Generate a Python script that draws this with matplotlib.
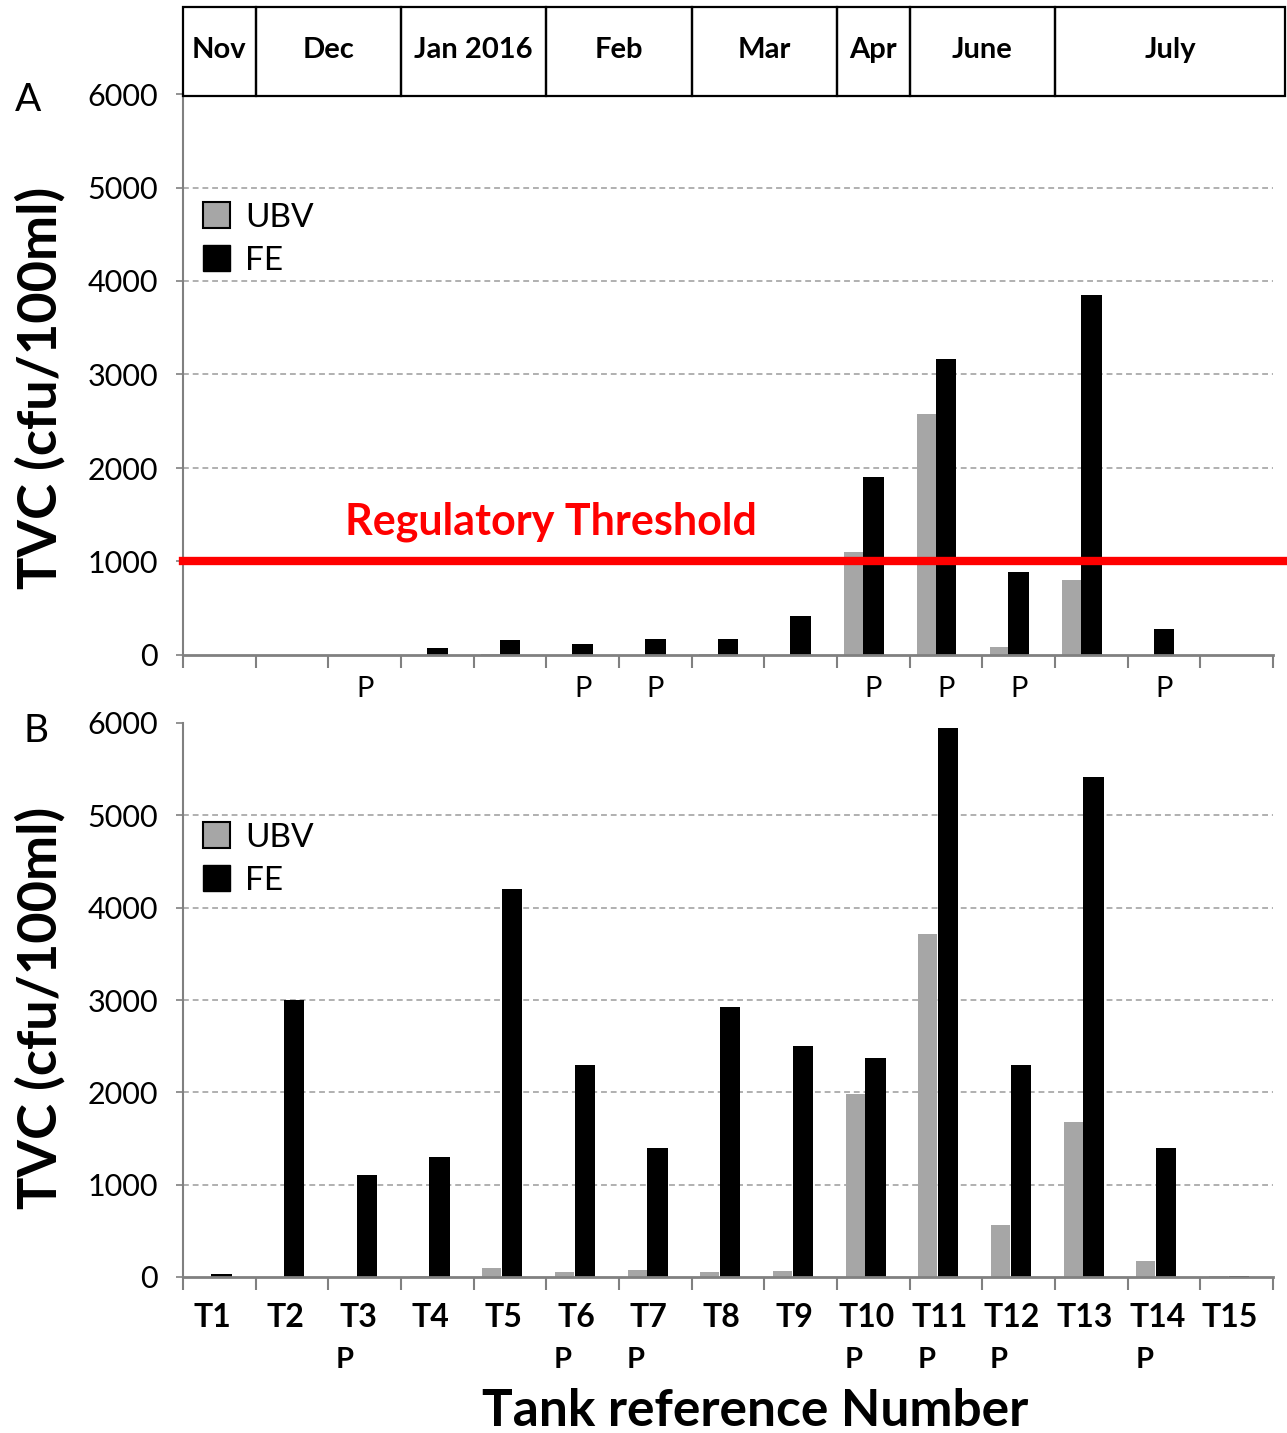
import numpy as np
import matplotlib
matplotlib.use("Agg")
import matplotlib.pyplot as plt
from matplotlib.patches import Rectangle, Patch
from matplotlib.transforms import blended_transform_factory

# data
tanks = ["T%d" % i for i in range(1, 16)]
ubv_a = [0, 0, 0, 5, 10, 5, 5, 15, 5, 1100, 2580, 90, 800, 5, 0]
fe_a = [0, 0, 0, 78, 160, 117, 174, 167, 416, 1900, 3170, 890, 3850, 274, 0]
ubv_b = [5, 5, 5, 10, 97, 58, 72, 58, 65, 1980, 3720, 562, 1680, 173, 15]
fe_b = [36, 3000, 1100, 1300, 4200, 2300, 1400, 2920, 2500, 2370, 5950, 2300, 5420, 1400, 12]
p_tanks = [3, 6, 7, 10, 11, 12, 14]
months = ["Nov", "Dec", "Jan 2016", "Feb", "Mar", "Apr", "June", "July"]
month_span = [1, 2, 2, 2, 2, 1, 2, 3]
threshold = 1000

W, H = 1287, 1433
plt.rcParams['font.family'] = ['Lato', 'DejaVu Sans']
fig = plt.figure(figsize=(W / 100, H / 100), dpi=100)

def fx(x):
    return x / W

def fy(y):
    return 1 - y / H

GRAY = "#a6a6a6"
AXC = "#808080"
x = np.arange(len(tanks))


def style_axes(ax):
    ax.set_xlim(-0.5, len(tanks) - 0.5)
    ax.set_ylim(0, 6000)
    ax.set_yticks(range(0, 7000, 1000))
    for s in ["top", "right"]:
        ax.spines[s].set_visible(False)
    ax.spines["left"].set_color(AXC)
    ax.spines["left"].set_linewidth(1.5)
    ax.spines["bottom"].set_color(AXC)
    ax.spines["bottom"].set_linewidth(2)
    ax.tick_params(axis="y", length=5, width=1.2, color=AXC, labelsize=22, pad=13)
    ax.set_xticks(np.arange(-0.5, len(tanks)), [])
    ax.tick_params(axis="x", length=9, width=1.5, color=AXC)
    for g in range(1000, 6000, 1000):
        ax.axhline(g, color="#b0b0b0", lw=1.4, ls=(0, (3, 2)), zorder=0)
    leg = ax.legend(handles=[Patch(facecolor=GRAY, edgecolor="black", lw=1.5, label="UBV"),
                             Patch(facecolor="black", edgecolor="black", label="FE")],
                    loc="upper left", frameon=False, fontsize=24, handlelength=0.82,
                    handleheight=0.82, handletextpad=0.45, labelspacing=0.38,
                    borderpad=0, borderaxespad=0)
    return leg


# panel A
axA = fig.add_axes([fx(183), fy(655), fx(1090), 561 / H])
axA.bar(x - 0.27, ubv_a, width=0.26, color=GRAY, zorder=2)
axA.bar(x, fe_a, width=0.28, color="black", zorder=2)
legA = style_axes(axA)
legA.set_bbox_to_anchor((0.018, (655 - 202) / 561), transform=axA.transAxes)
axA.axhline(threshold, xmin=0, xmax=1.01, color="#ff0000", lw=6, zorder=3, clip_on=False)
axA.text(4.57, 1420, "Regulatory Threshold", color="#ff0000", fontsize=31,
         fontweight="bold", ha="center", va="center")
trA = blended_transform_factory(axA.transData, axA.transAxes)
for t in p_tanks:
    axA.text(t - 1, -0.06, "P", transform=trA, ha="center", va="center", fontsize=21)

# month header above panel A
axH = fig.add_axes([fx(183), fy(96), fx(1090), 89 / H])
axH.set_xlim(-0.5, len(tanks) - 0.5)
axH.set_ylim(0, 1)
axH.axis("off")
left = -0.5
for name, span in zip(months, month_span):
    right = left + span
    if name == months[-1]:
        right += 0.17
    axH.add_patch(Rectangle((left, 0), right - left, 1, fill=False, edgecolor="black",
                            lw=1.6, clip_on=False))
    axH.text((left + right) / 2, 0.52, name, ha="center", va="center", fontsize=21,
             fontweight="bold")
    left = left + span

# panel B
axB = fig.add_axes([fx(183), fy(1277), fx(1090), 554 / H])
axB.bar(x - 0.25, ubv_b, width=0.26, color=GRAY, zorder=2)
axB.bar(x + 0.03, fe_b, width=0.28, color="black", zorder=2)
legB = style_axes(axB)
legB.set_bbox_to_anchor((0.018, (1277 - 822) / 554), transform=axB.transAxes)
trB = blended_transform_factory(axB.transData, axB.transAxes)
for i, t in enumerate(tanks):
    axB.text(i - 0.09, -0.073, t, transform=trB, ha="center", va="center",
             fontsize=23, fontweight="bold")
for t in p_tanks:
    axB.text(t - 1 - 0.27, -0.149, "P", transform=trB, ha="center", va="center",
             fontsize=21, fontweight="bold")

# labels
for yc in (388, 1008):
    fig.text(fx(40), fy(yc), "TVC (cfu/100ml)", rotation=90, ha="center", va="center",
             fontsize=39, fontweight="bold")
fig.text(fx(28), fy(100), "A", fontsize=28, ha="center", va="center")
fig.text(fx(36), fy(731), "B", fontsize=28, ha="center", va="center")
fig.text(fx(755), fy(1412), "Tank reference Number", fontsize=37, fontweight="bold",
         ha="center", va="center")

fig.savefig("out.png", dpi=100, facecolor="white")
